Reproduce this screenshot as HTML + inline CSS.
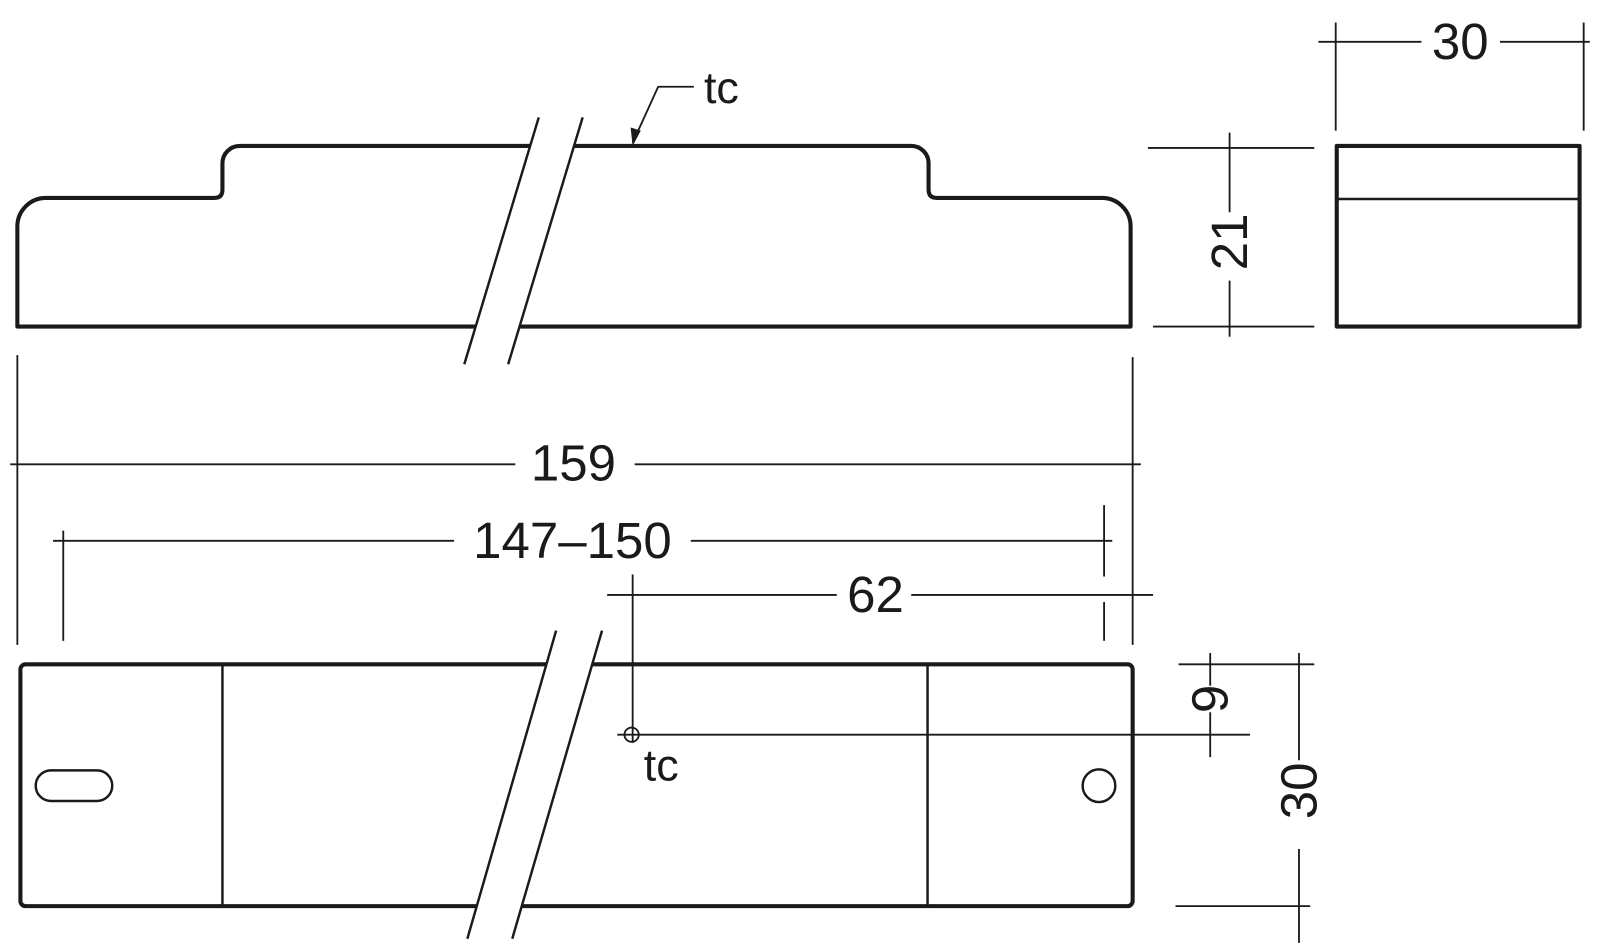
<!DOCTYPE html>
<html><head><style>html,body{margin:0;padding:0;background:#fff}svg{display:block}</style></head>
<body>
<svg width="1600" height="950" viewBox="0 0 1568 931" xmlns="http://www.w3.org/2000/svg" font-family="Liberation Sans, sans-serif" fill="none">
<g stroke="#1a1a1a" stroke-width="4" stroke-linejoin="round">
<path d="M17,320 L17,222 A28,28 0 0 1 45,194 L210,194 Q218,194 218,186 L218,160 A17,17 0 0 1 235,143 L893,143 A17,17 0 0 1 910,160 L910,186 Q910,194 918,194 L1080,194 A28,28 0 0 1 1108,222 L1108,320 Z"/>
<rect x="20" y="651" width="1090" height="237" rx="5"/>
<rect x="1310" y="143" width="238" height="177"/>
</g>
<polygon points="455,357 528,115 571,115 498,357" fill="#fff"/>
<polygon points="545,618 590,618 502,920 458,920" fill="#fff"/>
<g stroke="#1a1a1a" stroke-width="2.4">
<line x1="1310" y1="195" x2="1548" y2="195"/>
<line x1="218" y1="651" x2="218" y2="888"/>
<line x1="909" y1="651" x2="909" y2="888"/>
<rect x="35" y="755" width="75" height="30" rx="15"/>
<circle cx="1077" cy="770" r="16"/>
<line x1="455" y1="357" x2="528" y2="115"/><line x1="498" y1="357" x2="571" y2="115"/>
<line x1="545" y1="618" x2="458" y2="920"/><line x1="590" y1="618" x2="502" y2="920"/>
</g>
<g stroke="#1a1a1a" stroke-width="1.8">
<polyline points="680,85 645,85 620,140"/>
<line x1="10" y1="455" x2="505" y2="455"/><line x1="622" y1="455" x2="1118" y2="455"/>
<line x1="17" y1="348" x2="17" y2="632"/><line x1="1110" y1="350" x2="1110" y2="632"/>
<line x1="52" y1="530" x2="445" y2="530"/><line x1="677" y1="530" x2="1090" y2="530"/>
<line x1="62" y1="520" x2="62" y2="628"/><line x1="1082" y1="495" x2="1082" y2="565"/><line x1="1082" y1="590" x2="1082" y2="628"/>
<line x1="595" y1="583" x2="820" y2="583"/><line x1="893" y1="583" x2="1130" y2="583"/>
<line x1="620" y1="563" x2="620" y2="728"/>
<line x1="605" y1="720" x2="1225" y2="720"/>
<circle cx="619" cy="720" r="7"/>
<line x1="1186" y1="640" x2="1186" y2="672"/><line x1="1186" y1="698" x2="1186" y2="742"/>
<line x1="1155" y1="651" x2="1288" y2="651"/>
<line x1="1273" y1="640" x2="1273" y2="745"/><line x1="1273" y1="832" x2="1273" y2="924"/>
<line x1="1152" y1="888" x2="1284" y2="888"/>
<line x1="1292" y1="41" x2="1393" y2="41"/><line x1="1470" y1="41" x2="1558" y2="41"/>
<line x1="1309" y1="22" x2="1309" y2="128"/><line x1="1552" y1="22" x2="1552" y2="128"/>
<line x1="1205" y1="130" x2="1205" y2="208"/><line x1="1205" y1="275" x2="1205" y2="330"/>
<line x1="1125" y1="145" x2="1288" y2="145"/><line x1="1130" y1="320" x2="1288" y2="320"/>
</g>
<polygon points="620,143 618,125 628,128" fill="#1a1a1a"/>
<g fill="#1a1a1a" font-size="50" text-anchor="middle">
<text x="707" y="101" font-size="44">tc</text>
<text x="648" y="765" font-size="44">tc</text>
<text x="562" y="471">159</text>
<text x="561" y="547">147–150</text>
<text x="858" y="600">62</text>
<text x="1431" y="58">30</text>
<text transform="translate(1222,237) rotate(-90)">21</text>
<text transform="translate(1203,685) rotate(-90)">9</text>
<text transform="translate(1290,775) rotate(-90)">30</text>
</g>
</svg>
</body></html>
